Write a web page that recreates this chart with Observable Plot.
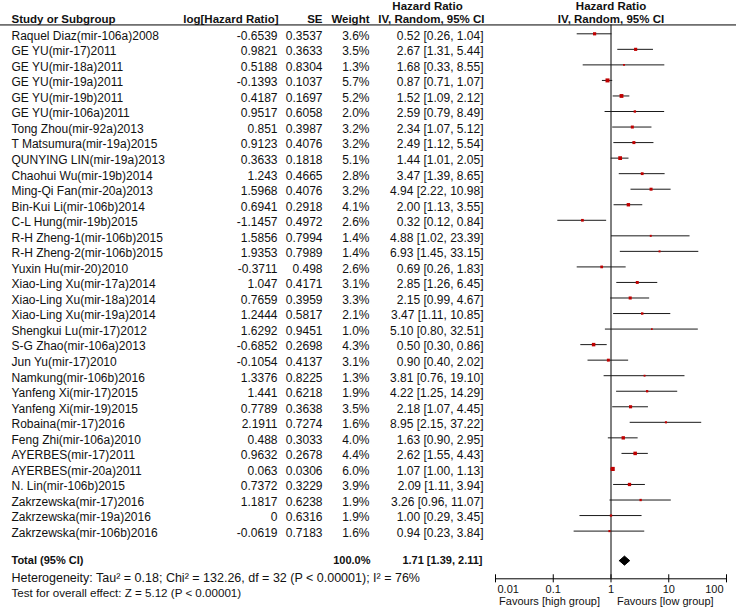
<!DOCTYPE html>
<html>
<head>
<meta charset="utf-8">
<script src="https://cdn.jsdelivr.net/npm/d3@7"></script>
<script src="https://cdn.jsdelivr.net/npm/@observablehq/plot@0.6"></script>
<style>
  html, body { margin: 0; padding: 0; background: #fff; }
  #chart svg { display: block; }
</style>
</head>
<body>
<div id="chart"></div>
<script>
// ---------- data ----------
const studies = [
  "Raquel Diaz(mir-106a)2008", "GE YU(mir-17)2011", "GE YU(mir-18a)2011", "GE YU(mir-19a)2011",
  "GE YU(mir-19b)2011", "GE YU(mir-106a)2011", "Tong Zhou(mir-92a)2013", "T Matsumura(mir-19a)2015",
  "QUNYING LIN(mir-19a)2013", "Chaohui Wu(mir-19b)2014", "Ming-Qi Fan(mir-20a)2013", "Bin-Kui Li(mir-106b)2014",
  "C-L Hung(mir-19b)2015", "R-H Zheng-1(mir-106b)2015", "R-H Zheng-2(mir-106b)2015", "Yuxin Hu(mir-20)2010",
  "Xiao-Ling Xu(mir-17a)2014", "Xiao-Ling Xu(mir-18a)2014", "Xiao-Ling Xu(mir-19a)2014", "Shengkui Lu(mir-17)2012",
  "S-G Zhao(mir-106a)2013", "Jun Yu(mir-17)2010", "Namkung(mir-106b)2016", "Yanfeng Xi(mir-17)2015",
  "Yanfeng Xi(mir-19)2015", "Robaina(mir-17)2016", "Feng Zhi(mir-106a)2010", "AYERBES(mir-17)2011",
  "AYERBES(mir-20a)2011", "N. Lin(mir-106b)2015", "Zakrzewska(mir-17)2016", "Zakrzewska(mir-19a)2016",
  "Zakrzewska(mir-106b)2016"
];
const logHR = [-0.6539, 0.9821, 0.5188, -0.1393, 0.4187, 0.9517, 0.851, 0.9123, 0.3633, 1.243, 1.5968, 0.6941,
  -1.1457, 1.5856, 1.9353, -0.3711, 1.047, 0.7659, 1.2444, 1.6292, -0.6852, -0.1054, 1.3376, 1.441,
  0.7789, 2.1911, 0.488, 0.9632, 0.063, 0.7372, 1.1817, 0, -0.0619];
const seVals = [0.3537, 0.3633, 0.8304, 0.1037, 0.1697, 0.6058, 0.3987, 0.4076, 0.1818, 0.4665, 0.4076, 0.2918,
  0.4972, 0.7994, 0.7989, 0.498, 0.4171, 0.3959, 0.5817, 0.9451, 0.2698, 0.4137, 0.8225, 0.6218,
  0.3638, 0.7274, 0.3033, 0.2678, 0.0306, 0.3229, 0.6238, 0.6316, 0.7183];
const weights = [3.6, 3.5, 1.3, 5.7, 5.2, 2.0, 3.2, 3.2, 5.1, 2.8, 3.2, 4.1, 2.6, 1.4, 1.4, 2.6, 3.1, 3.3, 2.1, 1.0,
  4.3, 3.1, 1.3, 1.9, 3.5, 1.6, 4.0, 4.4, 6.0, 3.9, 1.9, 1.9, 1.6];
const hrVals = [0.52, 2.67, 1.68, 0.87, 1.52, 2.59, 2.34, 2.49, 1.44, 3.47, 4.94, 2.00, 0.32, 4.88, 6.93, 0.69,
  2.85, 2.15, 3.47, 5.10, 0.50, 0.90, 3.81, 4.22, 2.18, 8.95, 1.63, 2.62, 1.07, 2.09, 3.26, 1.00, 0.94];
const ciLow = [0.26, 1.31, 0.33, 0.71, 1.09, 0.79, 1.07, 1.12, 1.01, 1.39, 2.22, 1.13, 0.12, 1.02, 1.45, 0.26,
  1.26, 0.99, 1.11, 0.80, 0.30, 0.40, 0.76, 1.25, 1.07, 2.15, 0.90, 1.55, 1.00, 1.11, 0.96, 0.29, 0.23];
const ciHigh = [1.04, 5.44, 8.55, 1.07, 2.12, 8.49, 5.12, 5.54, 2.05, 8.65, 10.98, 3.55, 0.84, 23.39, 33.15, 1.83,
  6.45, 4.67, 10.85, 32.51, 0.86, 2.02, 19.10, 14.29, 4.45, 37.22, 2.95, 4.43, 1.13, 3.94, 11.07, 3.45, 3.84];
const totalEstimate = [1.71];
const totalLow = [1.39];
const totalHigh = [2.11];
const totalWeightLabel = "100.0%";
const axisTicks = [0.01, 0.1, 1, 10, 100];
const axisTickLabels = ["0.01", "0.1", "1", "10", "100"];
const favourLabels = ["Favours [high group]", "Favours [low group]"];
const heterogeneityText = "Heterogeneity: Tau\u00B2 = 0.18; Chi\u00B2 = 132.26, df = 32 (P < 0.00001); I\u00B2 = 76%";
const overallText = "Test for overall effect: Z = 5.12 (P < 0.00001)";

// ---------- tables built from the arrays ----------
const rows = studies.map((s, i) => ({
  i, study: s,
  loghr: String(logHR[i]), se: String(seVals[i]),
  w: weights[i], wtxt: weights[i].toFixed(1) + "%",
  hr: hrVals[i], lo: ciLow[i], hi: ciHigh[i],
  citxt: `${hrVals[i].toFixed(2)} [${ciLow[i].toFixed(2)}, ${ciHigh[i].toFixed(2)}]`
}));

// layout rows (in row-index units)
const HEAD1 = -1.79, HEAD2 = -0.95, RULE = -0.57;
const TOTAL = 33.9, HET = 35.03, TEST = 35.98;
const AXIS = 35.07, TICKLAB = 35.77, FAV = 36.56;
const DHALF = 0.29, TICKHALF = 0.26;

const diamond = [
  {x: totalLow[0], y: TOTAL}, {x: totalEstimate[0], y: TOTAL - DHALF},
  {x: totalHigh[0], y: TOTAL}, {x: totalEstimate[0], y: TOTAL + DHALF},
  {x: totalLow[0], y: TOTAL}
];
const totalCI = `${totalEstimate[0].toFixed(2)} [${totalLow[0].toFixed(2)}, ${totalHigh[0].toFixed(2)}]`;
const ticks = axisTicks.map((t, k) => ({t, label: axisTickLabels[k]}));

const FONT = "'Liberation Sans', Arial, sans-serif";
const INK = "#111";
const T = {fill: INK, fontSize: 12};
const H = {fill: INK, fontSize: 11.5, fontWeight: "bold"};
const B = {fill: INK, fontSize: 11, fontWeight: "bold"};

const chart = Plot.plot({
  width: 736, height: 609,
  marginLeft: 0, marginRight: 0, marginTop: 0, marginBottom: 0,
  style: {fontFamily: FONT, background: "#fff"},
  x: {type: "log", domain: [0.01, 100], range: [495, 726], axis: null},
  y: {type: "linear", domain: [0, 32], range: [33.3, 530.6], axis: null},
  r: {type: "sqrt", domain: [0, 6], range: [0, 2.32]},
  marks: [
    // header rule
    Plot.ruleY([RULE], {stroke: "#000", strokeWidth: 1}),
    // headers
    Plot.text(["Study or Subgroup"], {y: HEAD2, frameAnchor: "left", dx: 11, textAnchor: "start", ...H}),
    Plot.text(["log[Hazard Ratio]"], {y: HEAD2, frameAnchor: "left", dx: 278, textAnchor: "end", ...H}),
    Plot.text(["SE"], {y: HEAD2, frameAnchor: "left", dx: 322, textAnchor: "end", ...H}),
    Plot.text(["Weight"], {y: HEAD2, frameAnchor: "left", dx: 369, textAnchor: "end", ...H}),
    Plot.text(["Hazard Ratio"], {y: HEAD1, frameAnchor: "left", dx: 427, textAnchor: "middle", ...H}),
    Plot.text(["IV, Random, 95% CI"], {y: HEAD2, frameAnchor: "left", dx: 484, textAnchor: "end", ...H}),
    Plot.text(["Hazard Ratio"], {x: 1, y: HEAD1, textAnchor: "middle", ...H}),
    Plot.text(["IV, Random, 95% CI"], {x: 1, y: HEAD2, textAnchor: "middle", ...H}),
    // study columns
    Plot.text(rows, {y: "i", text: "study", frameAnchor: "left", dx: 11, dy: 2, textAnchor: "start", ...T}),
    Plot.text(rows, {y: "i", text: "loghr", frameAnchor: "left", dx: 277, dy: 2, textAnchor: "end", ...T}),
    Plot.text(rows, {y: "i", text: "se", frameAnchor: "left", dx: 322, dy: 2, textAnchor: "end", ...T}),
    Plot.text(rows, {y: "i", text: "wtxt", frameAnchor: "left", dx: 369, dy: 2, textAnchor: "end", ...T}),
    Plot.text(rows, {y: "i", text: "citxt", frameAnchor: "left", dx: 483, dy: 2, textAnchor: "end", ...T}),
    // total row
    Plot.text(["Total (95% CI)"], {y: TOTAL, frameAnchor: "left", dx: 11, textAnchor: "start", ...B}),
    Plot.text([totalWeightLabel], {y: TOTAL, frameAnchor: "left", dx: 370, textAnchor: "end", ...B}),
    Plot.text([totalCI], {y: TOTAL, frameAnchor: "left", dx: 482, textAnchor: "end", ...B}),
    Plot.text([heterogeneityText], {y: HET, frameAnchor: "left", dx: 11, textAnchor: "start", fill: INK, fontSize: 12.5}),
    Plot.text([overallText], {y: TEST, frameAnchor: "left", dx: 11, textAnchor: "start", fill: INK, fontSize: 11.6}),
    // reference line at HR = 1
    Plot.ruleX([1], {y1: RULE, y2: AXIS, stroke: "#000", strokeWidth: 1}),
    // confidence intervals and point estimates
    Plot.ruleY(rows, {y: "i", x1: "lo", x2: "hi", stroke: "#1a1a1a", strokeWidth: 1}),
    Plot.dot(rows, {x: "hr", y: "i", r: "w", symbol: "square", fill: "#c00000", stroke: "none"}),
    // pooled diamond
    Plot.line(diamond, {x: "x", y: "y", fill: "#000", stroke: "#000", strokeWidth: 1}),
    // x axis
    Plot.ruleY([AXIS], {x1: axisTicks[0], x2: axisTicks[axisTicks.length - 1], stroke: "#000"}),
    Plot.ruleX(ticks, {x: "t", y1: AXIS - TICKHALF, y2: AXIS + TICKHALF, stroke: "#000"}),
    Plot.text(ticks.slice(0, 1), {x: "t", y: TICKLAB, text: "label", textAnchor: "start", dx: 2, fill: INK, fontSize: 11}),
    Plot.text(ticks.slice(1, -1), {x: "t", y: TICKLAB, text: "label", textAnchor: "middle", fill: INK, fontSize: 11}),
    Plot.text(ticks.slice(-1), {x: "t", y: TICKLAB, text: "label", textAnchor: "end", dx: -3, fill: INK, fontSize: 11}),
    Plot.text([favourLabels[0]], {x: 1, y: FAV, textAnchor: "end", dx: -11, fill: INK, fontSize: 11}),
    Plot.text([favourLabels[1]], {x: 1, y: FAV, textAnchor: "start", dx: 6, fill: INK, fontSize: 11})
  ]
});
document.getElementById("chart").appendChild(chart);
</script>
</body>
</html>
